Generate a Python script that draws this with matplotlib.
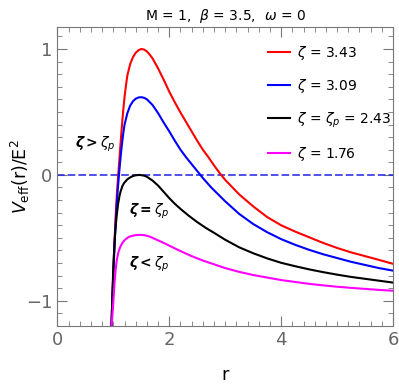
import numpy as np
import matplotlib
matplotlib.use("Agg")
import matplotlib.pyplot as plt
from matplotlib.ticker import MultipleLocator

# values
r_red = [0.965, 0.98, 1.0, 1.02, 1.04, 1.06, 1.08, 1.1, 1.12, 1.14, 1.16, 1.18, 1.2, 1.225, 1.25,
         1.3, 1.35, 1.4, 1.45, 1.5, 1.55, 1.6, 1.65, 1.7, 1.8, 1.9, 2.0, 2.1, 2.2, 2.3, 2.4, 2.5,
         2.6, 2.7, 2.8, 2.9, 3.0, 3.25, 3.5, 3.75, 4.0, 4.25, 4.5, 4.75, 5.0, 5.25, 5.5, 5.75, 6.0]
v_red = [-1.2, -1.0, -0.76, -0.53, -0.33, -0.17, -0.04, 0.08, 0.2, 0.32, 0.43, 0.53, 0.62, 0.71, 0.79,
         0.88, 0.935, 0.97, 0.99, 1.0, 0.995, 0.98, 0.955, 0.925, 0.845, 0.755, 0.66, 0.575, 0.495, 0.42, 0.345, 0.27,
         0.2, 0.14, 0.075, 0.015, -0.04, -0.155, -0.25, -0.335, -0.4, -0.45, -0.495, -0.54, -0.58, -0.615, -0.645, -0.675, -0.706]

r_blue = [0.965, 0.98, 1.0, 1.02, 1.04, 1.06, 1.08, 1.1, 1.12, 1.14, 1.16, 1.18, 1.2, 1.25, 1.3,
          1.35, 1.4, 1.45, 1.5, 1.55, 1.6, 1.7, 1.8, 1.9, 2.0, 2.1, 2.2, 2.3, 2.4, 2.5, 2.6, 2.75,
          3.0, 3.25, 3.5, 3.75, 4.0, 4.25, 4.5, 4.75, 5.0, 5.25, 5.5, 5.75, 6.0]
v_blue = [-1.2, -1.0, -0.78, -0.57, -0.39, -0.24, -0.11, 0.0, 0.1, 0.19, 0.27, 0.34, 0.4, 0.49, 0.55,
          0.585, 0.605, 0.615, 0.617, 0.612, 0.6, 0.555, 0.49, 0.415, 0.345, 0.27, 0.2, 0.14, 0.085, 0.03, -0.025, -0.1,
          -0.21, -0.31, -0.39, -0.455, -0.51, -0.555, -0.595, -0.63, -0.66, -0.69, -0.715, -0.74, -0.76]

r_black = [0.968, 0.98, 0.997, 1.01, 1.027, 1.045, 1.06, 1.086, 1.11, 1.13, 1.16, 1.19, 1.25, 1.3,
           1.35, 1.4, 1.47, 1.55, 1.6, 1.7, 1.8, 1.9, 2.0, 2.1, 2.2, 2.35, 2.5, 2.65, 2.8, 3.0,
           3.25, 3.5, 3.75, 4.0, 4.25, 4.5, 4.75, 5.0, 5.25, 5.5, 5.75, 6.0]
v_black = [-1.2, -1.0, -0.754, -0.63, -0.49, -0.39, -0.32, -0.225, -0.165, -0.13, -0.09, -0.065, -0.035, -0.02,
           -0.009, -0.003, 0.0, -0.006, -0.015, -0.045, -0.085, -0.135, -0.185, -0.23, -0.27, -0.325, -0.375, -0.42, -0.46, -0.515,
           -0.575, -0.622, -0.663, -0.698, -0.725, -0.75, -0.772, -0.792, -0.81, -0.825, -0.84, -0.855]

r_mag = [0.968, 0.985, 1.0, 1.02, 1.04, 1.06, 1.086, 1.12, 1.16, 1.205, 1.25, 1.3, 1.4, 1.47,
         1.55, 1.65, 1.8, 1.9, 2.0, 2.2, 2.4, 2.6, 2.8, 3.0, 3.25, 3.5, 3.75, 4.0, 4.25, 4.5,
         4.75, 5.0, 5.25, 5.5, 5.75, 6.0]
v_mag = [-1.2, -1.1, -1.0, -0.86, -0.754, -0.68, -0.62, -0.575, -0.54, -0.516, -0.5, -0.488, -0.478, -0.476,
         -0.478, -0.49, -0.52, -0.54, -0.562, -0.605, -0.645, -0.68, -0.71, -0.74, -0.77, -0.795, -0.815, -0.835, -0.85, -0.865,
         -0.877, -0.888, -0.897, -0.905, -0.913, -0.92]

labels = [r'$\zeta$ = 3.43', r'$\zeta$ = 3.09', r'$\zeta$ = $\zeta_p$ = 2.43', r'$\zeta$ = 1.76']

fig = plt.figure(figsize=(3.99, 3.9), dpi=100)
ax = fig.add_axes([0.144, 0.164, 0.841, 0.767])

ax.axhline(0, color='#2020e0', lw=1.1, ls=(0, (5, 2)))
ax.plot(r_red, v_red, color='red', lw=1.5, label=labels[0])
ax.plot(r_blue, v_blue, color='blue', lw=1.5, label=labels[1])
ax.plot(r_black, v_black, color='black', lw=1.5, label=labels[2])
ax.plot(r_mag, v_mag, color='magenta', lw=1.5, label=labels[3])

ax.set_xlim(0, 6)
ax.set_ylim(-1.2, 1.175)

grey = '#777777'
for s in ax.spines.values():
    s.set_color(grey)
ax.xaxis.set_major_locator(MultipleLocator(2))
ax.xaxis.set_minor_locator(MultipleLocator(0.2))
ax.yaxis.set_major_locator(MultipleLocator(1))
ax.yaxis.set_minor_locator(MultipleLocator(0.1))
ax.tick_params(which='both', direction='in', top=True, right=True, color=grey, labelcolor='#666666')
ax.tick_params(which='major', length=7, labelsize=13)
ax.tick_params(which='minor', length=3.5)
ax.set_yticks([-1, 0, 1])
ax.set_yticklabels(['\u22121', '0', '1'])

ax.set_xlabel('r', fontsize=13, labelpad=12)
ax.set_ylabel(r'$V_{\rm eff}$(r)/E$^2$', fontsize=12.5)
ax.yaxis.set_label_coords(-0.075, 0.5)
ax.set_title(r'M = 1,  $\beta$ = 3.5,  $\omega$ = 0', fontsize=10, pad=5)

ax.text(0.67, 0.24, r'$\boldsymbol{\zeta > \zeta_p}$', fontsize=10, ha='center', va='center')
ax.text(1.65, -0.29, r'$\boldsymbol{\zeta = \zeta_p}$', fontsize=10, ha='center', va='center')
ax.text(1.65, -0.71, r'$\boldsymbol{\zeta < \zeta_p}$', fontsize=10, ha='center', va='center')

ax.legend(loc='upper left', bbox_to_anchor=(0.59, 0.985), frameon=False, fontsize=10,
          handlelength=1.6, handletextpad=0.5, labelspacing=1.1)

fig.savefig('out.png', dpi=100)
